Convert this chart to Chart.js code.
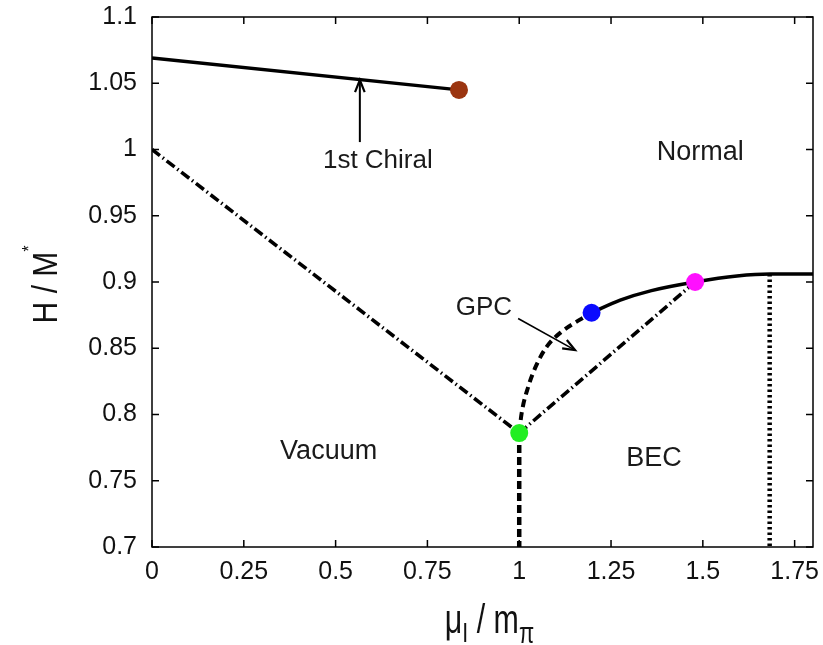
<!DOCTYPE html>
<html><head><meta charset="utf-8">
<script src="https://cdn.jsdelivr.net/npm/chart.js@4/dist/chart.umd.min.js"></script>
<style>html,body{margin:0;padding:0;background:#fff;}canvas{display:block;}</style>
</head><body>
<canvas id="c" width="823" height="645"></canvas>
<script>
// axis ticks
const xTicks = [0, 0.25, 0.5, 0.75, 1, 1.25, 1.5, 1.75];
const xTickLabels = ['0', '0.25', '0.5', '0.75', '1', '1.25', '1.5', '1.75'];
const yTicks = [0.7, 0.75, 0.8, 0.85, 0.9, 0.95, 1, 1.05, 1.1];
const yTickLabels = ['0.7', '0.75', '0.8', '0.85', '0.9', '0.95', '1', '1.05', '1.1'];

// first-order chiral transition line
const chiralX = [0, 0.836];
const chiralY = [1.069, 1.045];
// vacuum boundary (dash-dot)
const vacX = [0, 1.0];
const vacY = [1.0, 0.786];
// BEC / normal boundary (dash-dot)
const crossX = [1.0, 1.479];
const crossY = [0.786, 0.900];
// GPC boundary (dashed)
const gpcX = [1.0, 1.0065, 1.0245, 1.047, 1.075, 1.1155, 1.1655, 1.197];
const gpcY = [0.786, 0.8008, 0.8209, 0.8374, 0.8512, 0.8625, 0.8716, 0.8768];
// upper solid transition line
const upperX = [1.197, 1.275, 1.36, 1.479, 1.593, 1.683, 1.8];
const upperY = [0.8768, 0.8863, 0.8935, 0.900, 0.9045, 0.906, 0.906];
// vertical boundaries
const vertAX = [1.0, 1.0];
const vertAY = [0.786, 0.7];
const vertBX = [1.682, 1.682];
const vertBY = [0.906, 0.7];
// special points
const ptX = [0.836, 1.0, 1.197, 1.479];
const ptY = [1.045, 0.786, 0.8768, 0.900];
const ptColors = ['#9b3510', '#22ee22', '#0a0aff', '#ff10ff'];
// region labels
const regionText = ['1st Chiral', 'Normal', 'Vacuum', 'BEC', 'GPC'];
const regionX = [0.615, 1.493, 0.481, 1.367, 0.904];
const regionY = [0.9915, 0.998, 0.7718, 0.767, 0.8803];
// annotation arrows
const arrowFromX = [0.566, 0.997];
const arrowFromY = [1.0056, 0.8725];
const arrowToX = [0.566, 1.152];
const arrowToY = [1.0524, 0.8486];

const FONT = '"Liberation Sans", Arial, Helvetica, sans-serif';
const pts = (xs, ys) => xs.map((x, i) => ({x, y: ys[i]}));

function lineSet(xs, ys, width, dash, smooth) {
  return {
    data: pts(xs, ys), showLine: true, borderColor: '#000', borderWidth: width,
    borderDash: dash || [], pointRadius: 0, fill: false,
    tension: smooth ? 0.4 : 0, cubicInterpolationMode: smooth ? 'monotone' : 'default',
    borderCapStyle: 'butt'
  };
}

function squeezed(ctx, text, x, y, size, sx) {
  ctx.save();
  ctx.font = size + 'px ' + FONT;
  const w = ctx.measureText(text).width * sx;
  ctx.translate(x, y);
  ctx.scale(sx, 1);
  ctx.fillText(text, 0, 0);
  ctx.restore();
  return w;
}
function measureSq(ctx, text, size, sx) {
  ctx.save();
  ctx.font = size + 'px ' + FONT;
  const w = ctx.measureText(text).width * sx;
  ctx.restore();
  return w;
}

const decorations = {
  id: 'decorations',
  afterDatasetsDraw(chart) {
    const {ctx, scales: {x, y}} = chart;
    ctx.save();
    ctx.fillStyle = '#1a1a1a';
    ctx.textAlign = 'center';
    ctx.textBaseline = 'middle';
    regionText.forEach((t, i) => {
      ctx.font = (i === 0 || i === 4 ? '26px ' : '27px ') + FONT;
      ctx.fillText(t, x.getPixelForValue(regionX[i]), y.getPixelForValue(regionY[i]));
    });
    // arrows
    ctx.strokeStyle = '#000';
    arrowFromX.forEach((fx, i) => {
      const x0 = x.getPixelForValue(fx), y0 = y.getPixelForValue(arrowFromY[i]);
      const x1 = x.getPixelForValue(arrowToX[i]), y1 = y.getPixelForValue(arrowToY[i]);
      const ang = Math.atan2(y1 - y0, x1 - x0);
      ctx.lineWidth = i === 0 ? 2 : 1.6;
      ctx.beginPath(); ctx.moveTo(x0, y0); ctx.lineTo(x1, y1); ctx.stroke();
      const L = 13, W = 0.38;
      ctx.lineWidth = 2.2;
      ctx.beginPath();
      ctx.moveTo(x1 - L * Math.cos(ang - W), y1 - L * Math.sin(ang - W));
      ctx.lineTo(x1, y1);
      ctx.lineTo(x1 - L * Math.cos(ang + W), y1 - L * Math.sin(ang + W));
      ctx.stroke();
    });
    ctx.restore();
  },
  afterDraw(chart) {
    const {ctx, chartArea: a, scales: {x, y}} = chart;
    ctx.save();
    ctx.strokeStyle = '#000';
    ctx.lineWidth = 1.5;
    ctx.strokeRect(a.left, a.top, a.right - a.left, a.bottom - a.top);
    const T = 7;
    ctx.beginPath();
    xTicks.forEach(v => {
      const px = x.getPixelForValue(v);
      ctx.moveTo(px, a.bottom); ctx.lineTo(px, a.bottom - T);
      ctx.moveTo(px, a.top); ctx.lineTo(px, a.top + T);
    });
    yTicks.forEach(v => {
      const py = y.getPixelForValue(v);
      ctx.moveTo(a.left, py); ctx.lineTo(a.left + T, py);
      ctx.moveTo(a.right, py); ctx.lineTo(a.right - T, py);
    });
    ctx.stroke();

    // x axis title: mu_I / m_pi
    ctx.fillStyle = '#111';
    ctx.textAlign = 'left';
    ctx.textBaseline = 'alphabetic';
    const sx = 0.76;
    const xParts = [
      {t: 'μ', s: 40, dy: 0}, {t: 'I', s: 28, dy: 8.7}, {t: ' / ', s: 40, dy: 0},
      {t: 'm', s: 40, dy: 0}, {t: 'π', s: 29, dy: 10}
    ];
    let total = xParts.reduce((w, p) => w + measureSq(ctx, p.t, p.s, sx), 0);
    let cx = (a.left + a.right) / 2 + 7 - total / 2;
    const base = a.bottom + 86;
    xParts.forEach(p => { cx += squeezed(ctx, p.t, cx, base + p.dy, p.s, sx); });

    // y axis title: H / M*
    const sy = 0.86;
    const yParts = [{t: 'H / M', s: 35, dy: 0}, {t: '*', s: 18, dy: -22}];
    total = yParts.reduce((w, p) => w + measureSq(ctx, p.t, p.s, sy), 0);
    ctx.translate(57, (a.top + a.bottom) / 2 + 2.5);
    ctx.rotate(-Math.PI / 2);
    let cy = -total / 2;
    yParts.forEach(p => { cy += squeezed(ctx, p.t, cy, p.dy, p.s, sy); });
    ctx.restore();
  }
};

new Chart(document.getElementById('c'), {
  type: 'scatter',
  data: {
    datasets: [
      lineSet(chiralX, chiralY, 3.5),
      lineSet(vacX, vacY, 3.6, [10, 3.5, 1.5, 3.5]),
      lineSet(crossX, crossY, 3.6, [10, 3.5, 1.5, 3.5]),
      lineSet(gpcX, gpcY, 4, [8, 5], true),
      lineSet(upperX, upperY, 3.5, [], true),
      lineSet(vertAX, vertAY, 4.5, [8, 4]),
      lineSet(vertBX, vertBY, 4.5, [2.5, 3]),
      {
        data: pts(ptX, ptY), showLine: false, pointRadius: 9, order: -1,
        pointBackgroundColor: ptColors, pointBorderColor: ptColors, pointBorderWidth: 0
      }
    ]
  },
  options: {
    responsive: false,
    animation: false,
    devicePixelRatio: 1,
    layout: {padding: {top: 17, right: 10, left: 0, bottom: 0}},
    plugins: {legend: {display: false}, tooltip: {enabled: false}},
    scales: {
      x: {
        type: 'linear', min: 0, max: 1.8,
        grid: {display: false, drawTicks: false}, border: {display: false},
        afterBuildTicks: s => { s.ticks = xTicks.map(v => ({value: v})); },
        afterFit: s => { s.height = 98; s.paddingLeft = 0; s.paddingRight = 0; },
        ticks: {
          font: {size: 25, family: FONT}, color: '#111', padding: 10, maxRotation: 0,
          callback: (v) => xTickLabels[xTicks.indexOf(v)] ?? ''
        }
      },
      y: {
        type: 'linear', min: 0.7, max: 1.1,
        grid: {display: false, drawTicks: false}, border: {display: false},
        afterBuildTicks: s => { s.ticks = yTicks.map(v => ({value: v})); },
        afterFit: s => { s.width = 152; s.paddingTop = 0; s.paddingBottom = 0; },
        ticks: {
          font: {size: 25, family: FONT}, color: '#111', padding: 15,
          callback: (v) => yTickLabels[yTicks.findIndex(t => Math.abs(t - v) < 1e-9)] ?? ''
        }
      }
    }
  },
  plugins: [decorations]
});
</script>
</body></html>
